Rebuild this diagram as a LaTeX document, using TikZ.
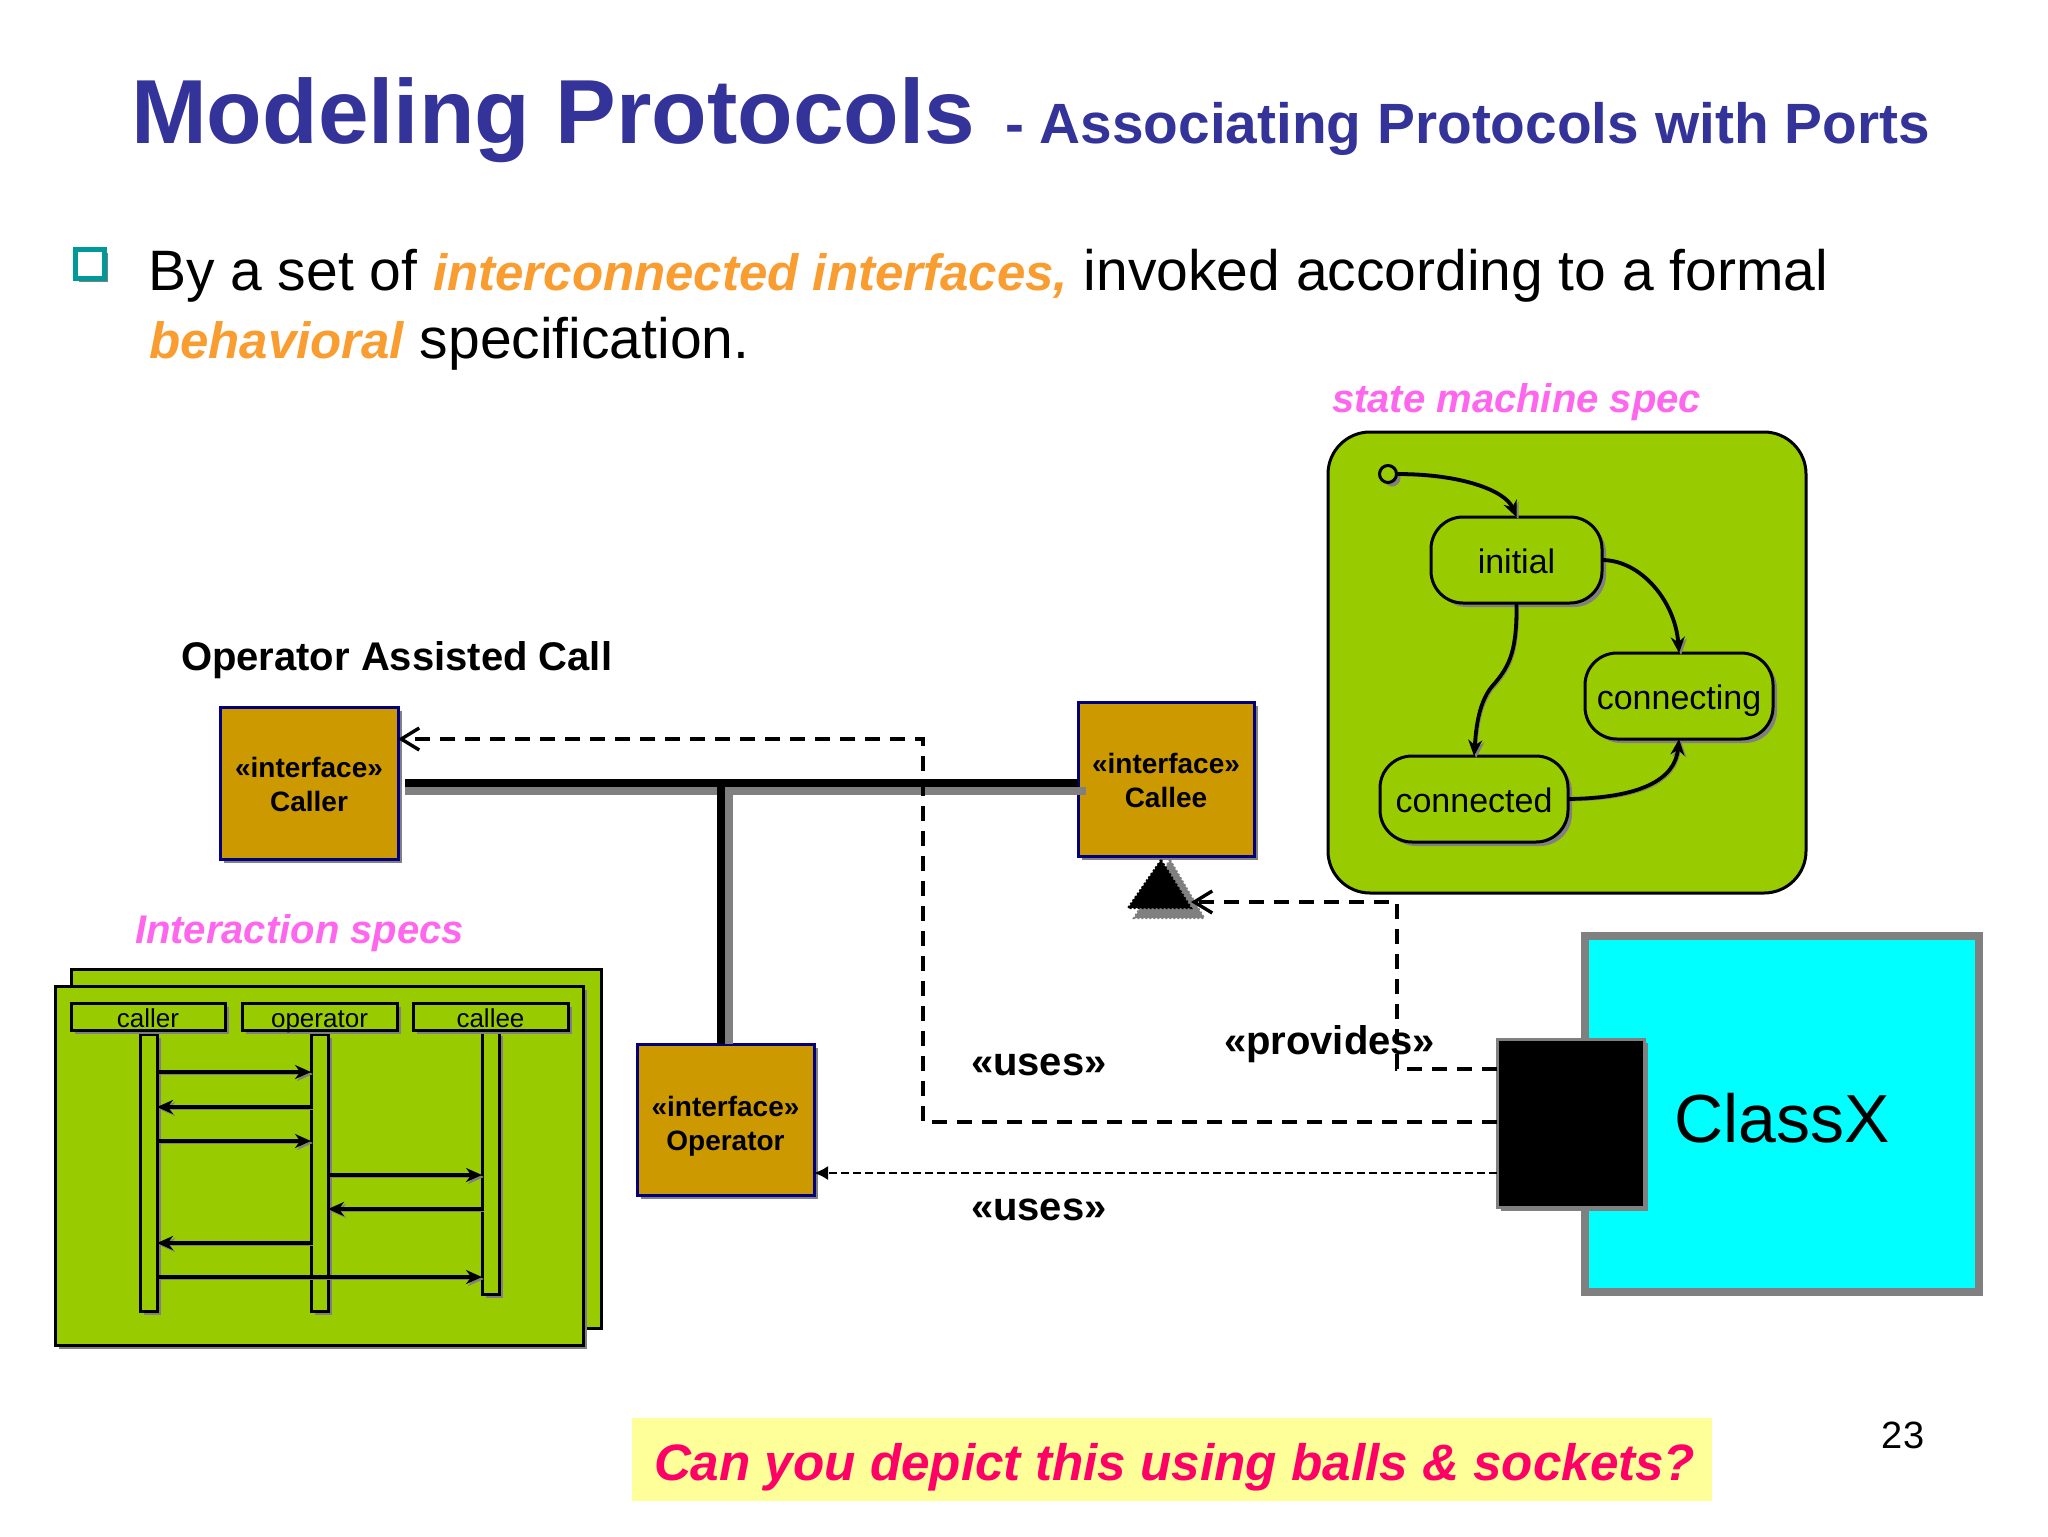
\documentclass[tikz,border=0pt]{standalone}
\usepackage{fontspec}
\setmainfont{Liberation Sans}
\usetikzlibrary{arrows.meta,shadows,calc}
\definecolor{titleblue}{HTML}{333399}
\definecolor{accent}{HTML}{F99D31}
\definecolor{pinklabel}{HTML}{FF66EE}
\definecolor{leaf}{HTML}{99CC00}
\definecolor{gold}{HTML}{CC9900}
\definecolor{navyline}{HTML}{000080}
\definecolor{banner}{HTML}{FFFF99}
\definecolor{question}{HTML}{FF0066}
\definecolor{teal}{HTML}{009999}
\definecolor{sh}{HTML}{808080}
\definecolor{classcyan}{HTML}{00FFFF}
\newcommand{\fs}[1]{\fontsize{#1pt}{#1pt}\selectfont}
\newcommand{\orng}[1]{{\color{accent}\fs{25.5}\bfseries\itshape #1}}
\newcommand{\pbox}[7]{\node[#6, inner sep=0pt, outer sep=0pt, minimum width={(#4-#2)*0.5pt}, minimum height={(#5-#3)*0.5pt}] (#1) at ({(#2+#4)/2},{(#3+#5)/2}) {#7};}
\tikzset{
  x=0.5pt,y=-0.5pt,
  shade3/.style={drop shadow={shadow xshift=2pt,shadow yshift=-2pt,fill=sh,opacity=1}},
  frame/.style={draw=black,line width=1.5pt,fill=leaf},
  lifehead/.style={frame,shade3,font=\fs{13},text height=10.5pt,text depth=0pt},
  life/.style={frame,shade3},
  iface/.style={draw=navyline,line width=1.5pt,fill=gold,shade3,align=center,font=\fs{14}\bfseries,text depth=0pt},
  state/.style={frame,rounded corners=16pt,shade3,font=\fs{17},text height=13.5pt,text depth=0pt},
  label/.style={inner sep=0pt,outer sep=0pt,anchor=base west},
  pink/.style={label,text=pinklabel,font=\fs{20}\bfseries\itshape},
  stereo/.style={label,font=\fs{20}\bfseries},
  msg/.style={line width=1.8pt,-{Stealth[length=8pt,width=7pt]},preaction={draw=sh,transform canvas={xshift=1pt,yshift=-1pt}}},
  trans/.style={line width=1.9pt,-{Stealth[length=8pt,width=7pt]},preaction={draw=sh,transform canvas={xshift=1pt,yshift=-1pt}}},
  dep/.style={line width=1.8pt,dash pattern=on 7.5pt off 5pt,-{Straight Barb[length=9pt,width=11pt,line width=1.7pt]}},
  depthin/.style={line width=1pt,dash pattern=on 4pt off 2pt,-{Latex[length=7pt,width=7pt]}},
  bus/.style={line width=4pt,black},
  busshadow/.style={line width=4pt,sh},
}
\begin{document}
\begin{tikzpicture}
\useasboundingbox[fill=white] (0,0) rectangle (2048,1536);

% title
\node[label,text=titleblue,font=\fs{45.5}\bfseries] (title) at (131,143) {Modeling Protocols};
\node[label,text=titleblue,font=\fs{28.4}\bfseries] (subtitle) at (1005,143) {- Associating Protocols with Ports};

% bullet text
\pbox{bullet}{75}{249}{104}{278}{draw=teal,line width=2.5pt,fill=white,drop shadow={shadow xshift=2pt,shadow yshift=-2pt,fill=sh,opacity=1}}{}
\node[label,font=\fs{28.5}] (line1) at (148,290) {By a set of \orng{interconnected interfaces,} invoked according to a formal};
\node[label,font=\fs{28.5}] (line2) at (149,358) {\orng{behavioral} specification.};

% labels
\node[pink] (smlabel) at (1332,412) {state machine spec};
\node[pink] (islabel) at (135,943) {Interaction specs};
\node[label,font=\fs{20}\bfseries] (oac) at (181,670) {Operator Assisted Call};

% state machine
\pbox{sm}{1328}{432}{1806}{893}{draw=black,line width=1.5pt,fill=leaf,rounded corners=21pt}{}
\node[circle,draw=black,line width=1.5pt,fill=leaf,inner sep=0pt,minimum size=8.5pt,shade3] (start) at (1388,474) {};
\pbox{initial}{1431}{517}{1602}{603}{state}{initial}
\pbox{connecting}{1585}{653}{1773}{739}{state}{connecting}
\pbox{connected}{1380}{756}{1568}{842}{state}{connected}
\draw[trans] (start.east) .. controls (1460,474) and (1505,490) .. (initial.north);
\draw[trans] (initial.east) .. controls (1640,560) and (1675,600) .. (connecting.north);
\draw[trans] (initial.south) .. controls (1517,650) and (1510,665) .. (1495,683) .. controls (1478,700) and (1476,730) .. (connected.north);
\draw[trans] (connected.east) .. controls (1640,798) and (1675,780) .. (connecting.south);

% sequence diagrams
\pbox{backframe}{71}{969}{601}{1328}{frame}{}
\pbox{frontframe}{55}{986}{583}{1345}{frame,shade3}{}
\pbox{life1}{140}{1034}{157}{1311}{life}{}
\pbox{life2}{311}{1034}{328}{1311}{life}{}
\pbox{life3}{482}{1032}{499}{1294}{life}{}
\pbox{head1}{71}{1003}{225}{1030}{lifehead}{caller}
\pbox{head2}{242}{1003}{397}{1030}{lifehead}{operator}
\pbox{head3}{413}{1003}{568}{1030}{lifehead}{callee}
\draw[msg] (life1.east |- 0,1072) -- (life2.west |- 0,1072);
\draw[msg] (life2.west |- 0,1107) -- (life1.east |- 0,1107);
\draw[msg] (life1.east |- 0,1141) -- (life2.west |- 0,1141);
\draw[msg] (life2.east |- 0,1175) -- (life3.west |- 0,1175);
\draw[msg] (life3.west |- 0,1209) -- (life2.east |- 0,1209);
\draw[msg] (life2.west |- 0,1243) -- (life1.east |- 0,1243);
\draw[msg] (life1.east |- 0,1277) -- (life3.west |- 0,1277);

% interfaces
\pbox{caller}{220}{707}{398}{859}{iface}{\rule{0pt}{11.5pt}«interface»\\[3pt]Caller}
\pbox{callee}{1078}{702}{1254}{856}{iface}{\rule{0pt}{11.5pt}«interface»\\[3pt]Callee}
\pbox{operator}{637}{1044}{814}{1195}{iface}{\rule{0pt}{13.5pt}«interface»\\[3pt]Operator}

% bus
\coordinate (junction) at (721,783);
\draw[busshadow] ($(caller.east |- junction)+(7,8)$) -- ($(callee.west |- junction)+(8,8)$);
\draw[busshadow] ($(junction)+(8,12)$) -- ($(operator.north -| junction)+(8,0)$);
\draw[bus] ($(caller.east |- junction)+(7,0)$) -- (callee.west |- junction);
\draw[bus] (junction) -- (operator.north -| junction);

% triangle
\coordinate (triapex) at (1161,860);
\coordinate (trileft) at (1128,908);
\coordinate (triright) at (1191,908);
\coordinate (tritip) at (1191,902);
\fill[sh] ($(triapex)+(9,0)$) -- ($(triright)+(13,10)$) -- ($(trileft)+(6,10)$) -- cycle;
\draw[sh,line width=1pt,densely dotted] ($(triapex)+(9,0)$) -- ($(triright)+(13,10)$) -- ($(trileft)+(6,10)$) -- cycle;
\fill[black] (triapex) -- (triright) -- (trileft) -- cycle;
\draw[black,line width=1pt,densely dotted] (triapex) -- (triright) -- (trileft) -- cycle;

% class
\pbox{classx}{1585}{936}{1979}{1292}{draw=sh,line width=4pt,fill=classcyan}{}
\pbox{port}{1497}{1039}{1644}{1207}{draw=sh,line width=1.5pt,fill=black,drop shadow={shadow xshift=2pt,shadow yshift=-2pt,fill=sh,opacity=1}}{}
\node[label,font=\fs{34}] (classname) at (1674,1142) {ClassX};

% dependencies
\coordinate (provcorner) at (1397,1069);
\coordinate (provup) at (1397,902);
\coordinate (usescorner) at (923,1122);
\coordinate (usesup) at (923,739);
\draw[dep] (port.west |- provcorner) -- (provcorner) -- (provup) -- (tritip);
\draw[dep] (port.west |- usescorner) -- (usescorner) -- (usesup) -- (caller.east |- usesup);
\draw[depthin] (port.west |- 0,1173) -- (operator.east |- 0,1173);

\node[stereo] (provides) at (1224,1054) {«provides»};
\node[stereo] (uses1) at (971,1075) {«uses»};
\node[stereo] (uses2) at (971,1220) {«uses»};

% banner
\pbox{bannerbox}{632}{1418}{1712}{1501}{fill=banner}{}
\node[label,text=question,font=\fs{25.6}\bfseries\itshape] (question) at (654,1480) {Can you depict this using balls \& sockets?};
\node[font=\fs{19},inner sep=0pt] (pagenum) at (1903,1435) {23};
\end{tikzpicture}
\end{document}
